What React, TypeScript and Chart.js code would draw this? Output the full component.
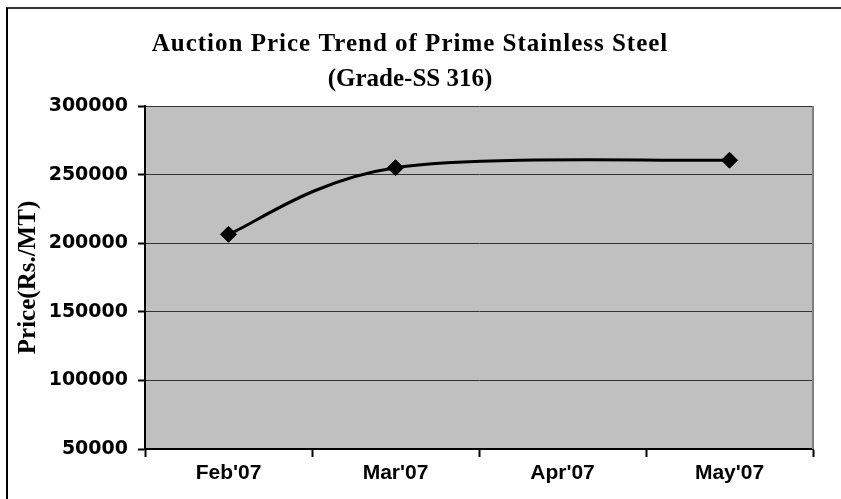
import React, { useEffect, useRef } from "react";
import { Chart, registerables } from "chart.js";

Chart.register(...registerables);

const categories = ["Feb'07", "Mar'07", "Apr'07", "May'07"];
const prices: (number | null)[] = [206500, 255000, null, 260500];
const titleLines = ["Auction Price Trend of Prime Stainless Steel", "(Grade-SS 316)"];
const yAxisTitle = "Price(Rs./MT)";
const yMin = 50000;
const yMax = 300000;
const yStep = 50000;

const SERIF = "'Liberation Serif', 'Times New Roman', serif";
const SANS = "'Liberation Sans', Arial, sans-serif";
const WIDE_SANS = "'DejaVu Sans', Verdana, sans-serif";

// Excel-like (Catmull-Rom) smoothing of the line's control points
const smoothPlugin = {
  id: "excelSmooth",
  beforeDatasetsDraw(chart: any) {
    const meta = chart.getDatasetMeta(0);
    const line = meta.dataset;
    if (line && line.updateControlPoints) line.updateControlPoints(chart.chartArea, meta.indexAxis);
    const pts = meta.data.filter((p: any) => !p.skip);
    for (let i = 0; i < pts.length; i++) {
      const p = pts[i];
      const prev = pts[i - 1] || p;
      const next = pts[i + 1] || p;
      const dx = (next.x - prev.x) / 6;
      const dy = (next.y - prev.y) / 6;
      p.cp1x = p.x - dx;
      p.cp1y = p.y - dy;
      p.cp2x = p.x + dx;
      p.cp2y = p.y + dy;
    }
    if (line) {
      line._pointsUpdated = true;
      line._path = undefined;
    }
  },
};

const framePlugin = {
  id: "frame",
  beforeDraw(chart: any) {
    const { ctx, chartArea } = chart;
    ctx.save();
    ctx.fillStyle = "#ffffff";
    ctx.fillRect(0, 0, chart.width, chart.height);
    ctx.fillStyle = "#C0C0C0";
    ctx.fillRect(chartArea.left, chartArea.top, chartArea.right - chartArea.left, chartArea.bottom - chartArea.top);
    // outer border (top + left visible)
    ctx.strokeStyle = "#333333";
    ctx.lineWidth = 2;
    ctx.beginPath();
    ctx.moveTo(6, 8);
    ctx.lineTo(chart.width, 8);
    ctx.stroke();
    ctx.strokeStyle = "#000000";
    ctx.beginPath();
    ctx.moveTo(7, 8);
    ctx.lineTo(7, chart.height);
    ctx.stroke();
    // title
    ctx.fillStyle = "#000000";
    ctx.font = `bold 25px ${SERIF}`;
    ctx.textAlign = "center";
    ctx.textBaseline = "middle";
    try {
      (ctx as any).letterSpacing = "1px";
    } catch (e) {}
    ctx.fillText(titleLines[0], 410, 45);
    try {
      (ctx as any).letterSpacing = "0px";
    } catch (e) {}
    ctx.fillText(titleLines[1], 410, 80);
    ctx.restore();
  },
  beforeDatasetsDraw(chart: any) {
    const { ctx, chartArea } = chart;
    ctx.save();
    ctx.strokeStyle = "#808080";
    ctx.lineWidth = 2;
    ctx.beginPath();
    ctx.moveTo(chartArea.right, chartArea.top);
    ctx.lineTo(chartArea.right, chartArea.bottom);
    ctx.stroke();
    ctx.restore();
  },
};

export default function App() {
  const ref = useRef<HTMLCanvasElement>(null);
  useEffect(() => {
    if (!ref.current) return;
    const chart = new Chart(ref.current, {
      type: "line",
      data: {
        labels: categories,
        datasets: [
          {
            data: prices,
            borderColor: "#000000",
            backgroundColor: "#000000",
            borderWidth: 3,
            tension: 0.3,
            spanGaps: true,
            pointStyle: "rectRot",
            pointRadius: 8,
            pointBackgroundColor: "#000000",
            pointBorderColor: "#000000",
            pointBorderWidth: 1,
          },
        ],
      },
      options: {
        animation: false,
        responsive: false,
        layout: { padding: { left: 14, top: 106, right: 28, bottom: 0 } },
        plugins: { legend: { display: false }, title: { display: false }, tooltip: { enabled: false } },
        scales: {
          x: {
            type: "category",
            offset: true,
            afterFit: (s: any) => {
              s.height = 50;
            },
            grid: {
              display: true,
              offset: true,
              drawOnChartArea: false,
              drawTicks: true,
              tickLength: 8,
              tickColor: "#000000",
              tickWidth: 2,
              color: "#000000",
            },
            border: { display: true, color: "#000000", width: 2 },
            ticks: {
              color: "#000000",
              padding: 4,
              font: { family: SANS, weight: "bold", size: 21 },
              maxRotation: 0,
            },
          },
          y: {
            min: yMin,
            max: yMax,
            afterFit: (s: any) => {
              s.width = 131;
            },
            title: {
              display: true,
              text: yAxisTitle,
              color: "#000000",
              font: { family: SERIF, weight: "bold", size: 25 },
              padding: 0,
            },
            grid: {
              color: "#333333",
              lineWidth: 1,
              drawTicks: true,
              tickLength: 7,
              tickColor: "#000000",
              tickWidth: 2,
            },
            border: { display: true, color: "#000000", width: 2 },
            ticks: {
              stepSize: yStep,
              color: "#000000",
              padding: 10,
              font: { family: WIDE_SANS, weight: "bold", size: 19 },
              callback: (v: any) => String(v),
            },
          },
        },
      },
      plugins: [framePlugin, smoothPlugin],
    } as any);
    return () => chart.destroy();
  }, []);
  return (
    <div style={{ position: "absolute", left: 0, top: 0, width: 841, height: 499 }}>
      <canvas ref={ref} width={841} height={499} style={{ width: 841, height: 499, display: "block" }} />
    </div>
  );
}
